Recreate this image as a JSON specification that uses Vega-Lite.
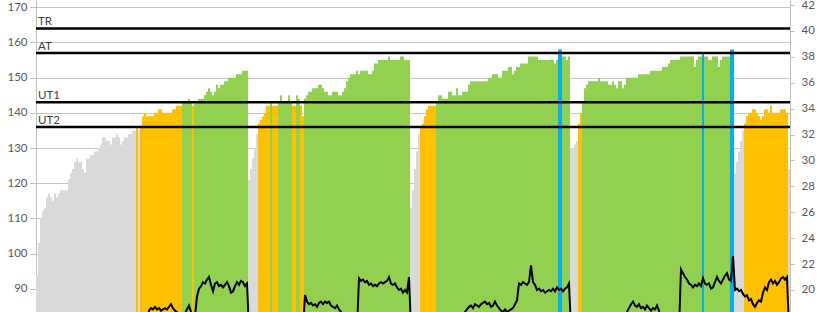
{
"$schema":"https://vega.github.io/schema/vega-lite/v6.json",
"width":754,"height":312,
"autosize":{"type":"none"},
"padding":{"left":36,"right":30,"top":0,"bottom":0},
"config":{"view":{"stroke":null},"font":"Lato"},
"datasets":{
"z":[{"n":"TR","v":164},{"n":"AT","v":157},{"n":"UT1","v":143},{"n":"UT2","v":136}],
"s":[
{"i":0,"h":94,"v":17},{"i":1,"h":103,"v":17},{"i":2,"h":110,"v":17},{"i":3,"h":112,"v":17},{"i":4,"h":113,"v":17},{"i":5,"h":116,"v":17},{"i":6,"h":117,"v":17},{"i":7,"h":116,"v":17},{"i":8,"h":115,"v":17},{"i":9,"h":117,"v":17},
{"i":10,"h":116,"v":17},{"i":11,"h":117,"v":17},{"i":12,"h":118,"v":17},{"i":13,"h":118,"v":17},{"i":14,"h":118,"v":17},{"i":15,"h":118,"v":17},{"i":16,"h":121,"v":17},{"i":17,"h":123,"v":17},{"i":18,"h":124,"v":17},{"i":19,"h":126,"v":17},
{"i":20,"h":127,"v":17},{"i":21,"h":126,"v":17},{"i":22,"h":126,"v":17},{"i":23,"h":124,"v":17},{"i":24,"h":123,"v":17},{"i":25,"h":127,"v":17},{"i":26,"h":127,"v":17},{"i":27,"h":128,"v":17},{"i":28,"h":128,"v":17},{"i":29,"h":129,"v":17},
{"i":30,"h":129,"v":17},{"i":31,"h":130,"v":17},{"i":32,"h":131,"v":17},{"i":33,"h":133,"v":17},{"i":34,"h":133,"v":17},{"i":35,"h":132,"v":17},{"i":36,"h":132,"v":17},{"i":37,"h":131,"v":17},{"i":38,"h":133,"v":17},{"i":39,"h":133,"v":17},
{"i":40,"h":134,"v":17},{"i":41,"h":133,"v":17},{"i":42,"h":131,"v":17},{"i":43,"h":132,"v":17},{"i":44,"h":133,"v":17},{"i":45,"h":133,"v":17},{"i":46,"h":134,"v":17},{"i":47,"h":134,"v":17},{"i":48,"h":135,"v":17},{"i":49,"h":135,"v":17},
{"i":50,"h":136,"v":17},{"i":51,"h":135,"v":17},{"i":52,"h":136,"v":17},{"i":53,"h":139,"v":17},{"i":54,"h":140,"v":17},{"i":55,"h":139,"v":17},{"i":56,"h":139,"v":18.4},{"i":57,"h":139,"v":18.6},{"i":58,"h":139,"v":18.5},{"i":59,"h":140,"v":18.7},
{"i":60,"h":140,"v":18.5},{"i":61,"h":141,"v":18.6},{"i":62,"h":141,"v":18.4},{"i":63,"h":140,"v":18.5},{"i":64,"h":140,"v":18.6},{"i":65,"h":140,"v":18.5},{"i":66,"h":140,"v":18.7},{"i":67,"h":140,"v":18.9},{"i":68,"h":141,"v":18.6},{"i":69,"h":141,"v":18.4},
{"i":70,"h":142,"v":18.3},{"i":71,"h":142,"v":17.8},{"i":72,"h":142,"v":17.8},{"i":73,"h":143,"v":17.8},{"i":74,"h":143,"v":18.2},{"i":75,"h":143,"v":18.5},{"i":76,"h":144,"v":18.8},{"i":77,"h":143,"v":18.3},{"i":78,"h":142,"v":17.8},{"i":79,"h":143,"v":18.0},
{"i":80,"h":143,"v":19.5},{"i":81,"h":144,"v":20.1},{"i":82,"h":144,"v":20.3},{"i":83,"h":144,"v":20.6},{"i":84,"h":145,"v":20.5},{"i":85,"h":146,"v":20.8},{"i":86,"h":147,"v":21.0},{"i":87,"h":146,"v":20.4},{"i":88,"h":145,"v":19.9},{"i":89,"h":146,"v":20.5},
{"i":90,"h":148,"v":20.6},{"i":91,"h":147,"v":20.3},{"i":92,"h":148,"v":20.4},{"i":93,"h":148,"v":20.2},{"i":94,"h":149,"v":20.4},{"i":95,"h":149,"v":20.6},{"i":96,"h":150,"v":20.3},{"i":97,"h":150,"v":19.8},{"i":98,"h":150,"v":19.9},{"i":99,"h":150,"v":20.3},
{"i":100,"h":151,"v":20.6},{"i":101,"h":151,"v":20.4},{"i":102,"h":151,"v":20.7},{"i":103,"h":152,"v":20.6},{"i":104,"h":152,"v":20.3},{"i":105,"h":152,"v":20.5},{"i":106,"h":121,"v":17},{"i":107,"h":124,"v":17},{"i":108,"h":127,"v":17},{"i":109,"h":130,"v":17},
{"i":110,"h":134,"v":17},{"i":111,"h":137,"v":17},{"i":112,"h":138,"v":17},{"i":113,"h":139,"v":17},{"i":114,"h":140,"v":17},{"i":115,"h":142,"v":17},{"i":116,"h":142,"v":17},{"i":117,"h":143,"v":17},{"i":118,"h":142,"v":17},{"i":119,"h":142,"v":17},
{"i":120,"h":142,"v":17},{"i":121,"h":143,"v":17},{"i":122,"h":145,"v":17},{"i":123,"h":143,"v":17},{"i":124,"h":143,"v":17},{"i":125,"h":143,"v":17},{"i":126,"h":145,"v":17},{"i":127,"h":143,"v":17},{"i":128,"h":142,"v":17},{"i":129,"h":142,"v":17},
{"i":130,"h":145,"v":17},{"i":131,"h":144,"v":17},{"i":132,"h":142,"v":17},{"i":133,"h":139,"v":17},{"i":134,"h":144,"v":19.6},{"i":135,"h":145,"v":19.1},{"i":136,"h":146,"v":18.9},{"i":137,"h":146,"v":19.0},{"i":138,"h":147,"v":18.8},{"i":139,"h":147,"v":18.9},
{"i":140,"h":147,"v":18.7},{"i":141,"h":148,"v":19.0},{"i":142,"h":148,"v":19.1},{"i":143,"h":147,"v":18.9},{"i":144,"h":146,"v":19.1},{"i":145,"h":146,"v":19.0},{"i":146,"h":145,"v":19.1},{"i":147,"h":145,"v":18.8},{"i":148,"h":146,"v":18.7},{"i":149,"h":146,"v":18.6},
{"i":150,"h":146,"v":18.8},{"i":151,"h":145,"v":18.5},{"i":152,"h":145,"v":18.3},{"i":153,"h":146,"v":17},{"i":154,"h":147,"v":17},{"i":155,"h":149,"v":17},{"i":156,"h":150,"v":17},{"i":157,"h":151,"v":17},{"i":158,"h":151,"v":17},{"i":159,"h":151,"v":17},
{"i":160,"h":152,"v":17},{"i":161,"h":151,"v":20.9},{"i":162,"h":152,"v":20.7},{"i":163,"h":152,"v":20.8},{"i":164,"h":152,"v":20.6},{"i":165,"h":152,"v":20.7},{"i":166,"h":151,"v":20.4},{"i":167,"h":151,"v":20.5},{"i":168,"h":152,"v":20.3},{"i":169,"h":154,"v":20.4},
{"i":170,"h":154,"v":20.3},{"i":171,"h":155,"v":20.5},{"i":172,"h":155,"v":20.6},{"i":173,"h":155,"v":20.5},{"i":174,"h":155,"v":20.6},{"i":175,"h":155,"v":20.7},{"i":176,"h":156,"v":21.0},{"i":177,"h":155,"v":20.5},{"i":178,"h":155,"v":20.4},{"i":179,"h":155,"v":20.5},
{"i":180,"h":155,"v":20.2},{"i":181,"h":155,"v":20.0},{"i":182,"h":156,"v":20.1},{"i":183,"h":156,"v":19.8},{"i":184,"h":155,"v":20.0},{"i":185,"h":155,"v":19.8},{"i":186,"h":155,"v":21.0},{"i":187,"h":113,"v":17},{"i":188,"h":118,"v":17},{"i":189,"h":124,"v":17},
{"i":190,"h":129,"v":17},{"i":191,"h":134,"v":17},{"i":192,"h":136,"v":17},{"i":193,"h":137,"v":17},{"i":194,"h":139,"v":17},{"i":195,"h":141,"v":17},{"i":196,"h":142,"v":17},{"i":197,"h":142,"v":17},{"i":198,"h":142,"v":17},{"i":199,"h":142,"v":17},
{"i":200,"h":143,"v":17},{"i":201,"h":145,"v":17},{"i":202,"h":145,"v":17},{"i":203,"h":144,"v":17},{"i":204,"h":144,"v":17},{"i":205,"h":144,"v":17},{"i":206,"h":146,"v":17},{"i":207,"h":146,"v":17},{"i":208,"h":145,"v":17},{"i":209,"h":145,"v":17},
{"i":210,"h":147,"v":17},{"i":211,"h":145,"v":17},{"i":212,"h":145,"v":17},{"i":213,"h":146,"v":17},{"i":214,"h":146,"v":18.3},{"i":215,"h":146,"v":18.5},{"i":216,"h":148,"v":18.7},{"i":217,"h":149,"v":18.8},{"i":218,"h":149,"v":18.6},{"i":219,"h":149,"v":18.9},
{"i":220,"h":149,"v":18.8},{"i":221,"h":149,"v":18.7},{"i":222,"h":149,"v":18.9},{"i":223,"h":149,"v":19.0},{"i":224,"h":149,"v":19.1},{"i":225,"h":149,"v":18.9},{"i":226,"h":150,"v":19.0},{"i":227,"h":150,"v":18.7},{"i":228,"h":151,"v":18.8},{"i":229,"h":151,"v":19.1},
{"i":230,"h":151,"v":18.8},{"i":231,"h":150,"v":18.6},{"i":232,"h":150,"v":18.4},{"i":233,"h":152,"v":18.3},{"i":234,"h":152,"v":18.5},{"i":235,"h":152,"v":18.3},{"i":236,"h":153,"v":18.4},{"i":237,"h":153,"v":18.5},{"i":238,"h":151,"v":18.6},{"i":239,"h":152,"v":18.9},
{"i":240,"h":153,"v":19.2},{"i":241,"h":153,"v":20.5},{"i":242,"h":154,"v":20.4},{"i":243,"h":154,"v":20.6},{"i":244,"h":154,"v":20.5},{"i":245,"h":154,"v":20.4},{"i":246,"h":156,"v":20.6},{"i":247,"h":156,"v":21.9},{"i":248,"h":156,"v":20.6},{"i":249,"h":156,"v":20.4},
{"i":250,"h":156,"v":20.0},{"i":251,"h":155,"v":20.1},{"i":252,"h":155,"v":19.9},{"i":253,"h":155,"v":20.0},{"i":254,"h":155,"v":19.8},{"i":255,"h":155,"v":19.9},{"i":256,"h":155,"v":20.0},{"i":257,"h":155,"v":19.9},{"i":258,"h":155,"v":20.1},{"i":259,"h":154,"v":19.9},
{"i":260,"h":155,"v":20.2},{"i":261,"h":158,"v":20.0},{"i":262,"h":158,"v":20.1},{"i":263,"h":156,"v":19.9},{"i":264,"h":156,"v":20.1},{"i":265,"h":155,"v":20.2},{"i":266,"h":156,"v":20.5},{"i":267,"h":130,"v":17},{"i":268,"h":130,"v":17},{"i":269,"h":131,"v":17},
{"i":270,"h":132,"v":17},{"i":271,"h":137,"v":17},{"i":272,"h":140,"v":17},{"i":273,"h":143,"v":17},{"i":274,"h":147,"v":17},{"i":275,"h":148,"v":17},{"i":276,"h":149,"v":17},{"i":277,"h":149,"v":17},{"i":278,"h":149,"v":17},{"i":279,"h":149,"v":17},
{"i":280,"h":149,"v":17},{"i":281,"h":150,"v":17},{"i":282,"h":149,"v":17},{"i":283,"h":149,"v":17},{"i":284,"h":149,"v":17},{"i":285,"h":149,"v":17},{"i":286,"h":148,"v":17},{"i":287,"h":148,"v":17},{"i":288,"h":149,"v":17},{"i":289,"h":148,"v":17},
{"i":290,"h":147,"v":17},{"i":291,"h":149,"v":17},{"i":292,"h":149,"v":17},{"i":293,"h":147,"v":17},{"i":294,"h":148,"v":17},{"i":295,"h":150,"v":18.3},{"i":296,"h":150,"v":18.6},{"i":297,"h":150,"v":18.9},{"i":298,"h":150,"v":19.1},{"i":299,"h":150,"v":18.8},
{"i":300,"h":150,"v":18.7},{"i":301,"h":151,"v":18.9},{"i":302,"h":151,"v":18.6},{"i":303,"h":151,"v":18.7},{"i":304,"h":151,"v":18.5},{"i":305,"h":151,"v":18.8},{"i":306,"h":151,"v":18.6},{"i":307,"h":152,"v":18.4},{"i":308,"h":152,"v":18.6},{"i":309,"h":152,"v":18.5},
{"i":310,"h":152,"v":18.8},{"i":311,"h":152,"v":18.4},{"i":312,"h":152,"v":17},{"i":313,"h":153,"v":17},{"i":314,"h":153,"v":17},{"i":315,"h":153,"v":17},{"i":316,"h":154,"v":17},{"i":317,"h":155,"v":17},{"i":318,"h":155,"v":17},{"i":319,"h":155,"v":17},
{"i":320,"h":155,"v":17},{"i":321,"h":155,"v":17},{"i":322,"h":156,"v":21.6},{"i":323,"h":156,"v":21.3},{"i":324,"h":156,"v":21.0},{"i":325,"h":156,"v":20.8},{"i":326,"h":156,"v":20.5},{"i":327,"h":156,"v":20.4},{"i":328,"h":156,"v":20.2},{"i":329,"h":153,"v":20.4},
{"i":330,"h":155,"v":20.3},{"i":331,"h":156,"v":20.5},{"i":332,"h":156,"v":20.3},{"i":333,"h":157,"v":20.9},{"i":334,"h":156,"v":20.5},{"i":335,"h":156,"v":20.4},{"i":336,"h":155,"v":20.5},{"i":337,"h":155,"v":20.1},{"i":338,"h":156,"v":20.2},{"i":339,"h":156,"v":20.6},
{"i":340,"h":156,"v":21.0},{"i":341,"h":153,"v":20.7},{"i":342,"h":155,"v":20.5},{"i":343,"h":156,"v":20.8},{"i":344,"h":156,"v":21.1},{"i":345,"h":156,"v":21.3},{"i":346,"h":156,"v":20.8},{"i":347,"h":158,"v":20.7},{"i":348,"h":158,"v":22.6},{"i":349,"h":123,"v":20.0},
{"i":350,"h":126,"v":20.1},{"i":351,"h":129,"v":19.9},{"i":352,"h":132,"v":20.0},{"i":353,"h":135,"v":19.7},{"i":354,"h":137,"v":19.5},{"i":355,"h":139,"v":19.6},{"i":356,"h":140,"v":19.2},{"i":357,"h":140,"v":19.3},{"i":358,"h":141,"v":18.9},{"i":359,"h":141,"v":18.7},
{"i":360,"h":140,"v":19.0},{"i":361,"h":139,"v":19.2},{"i":362,"h":138,"v":19.1},{"i":363,"h":139,"v":19.8},{"i":364,"h":141,"v":20.2},{"i":365,"h":141,"v":20.0},{"i":366,"h":140,"v":20.6},{"i":367,"h":142,"v":20.8},{"i":368,"h":140,"v":20.5},{"i":369,"h":140,"v":20.7},
{"i":370,"h":140,"v":20.4},{"i":371,"h":140,"v":20.6},{"i":372,"h":141,"v":20.9},{"i":373,"h":141,"v":21.0},{"i":374,"h":141,"v":20.8},{"i":375,"h":140,"v":21.0},{"i":376,"h":124,"v":17}
]},
"layer":[
{"layer":[
{"data":{"name":"s"},"mark":{"type":"bar","strokeWidth":0},
"encoding":{
"x":{"field":"i","type":"ordinal","scale":{"paddingInner":0,"paddingOuter":0},"axis":null},
"y":{"field":"h","type":"quantitative","scale":{"domain":[83.38,172.08],"nice":false,"zero":false},
"axis":{"orient":"left","title":null,"values":[90,100,110,120,130,140,150,160,170],"tickCount":40,"format":"d","labelOverlap":false,"grid":true,"gridColor":"#C6C6C6","gridWidth":1,"domainColor":"#BFBFBF","tickColor":"#BFBFBF","tickSize":6,"labelPadding":3,"labelColor":"#595959","labelFont":"Lato","labelFontSize":11.5}},
"color":{"field":"h","type":"quantitative","scale":{"type":"threshold","domain":[136,143,157],"range":["#D9D9D9","#FFC000","#92D050","#00B0F0"]},"legend":null}
}},
{"data":{"name":"z"},"mark":{"type":"rule","color":"#000000","strokeWidth":2.5},
"encoding":{"y":{"field":"v","type":"quantitative"}}},
{"data":{"name":"z"},"mark":{"type":"text","align":"left","baseline":"alphabetic","dx":2,"dy":-3,"font":"Lato","fontSize":11.5,"color":"#404040"},
"encoding":{"x":{"datum":0},"y":{"field":"v","type":"quantitative"},"text":{"field":"n"}}}
]},
{"data":{"name":"s"},"mark":{"type":"line","color":"#000000","strokeWidth":2,"clip":true},
"encoding":{
"x":{"field":"i","type":"ordinal","axis":null},
"y":{"field":"v","type":"quantitative","scale":{"domain":[18.3,42.39],"nice":false,"zero":false},
"axis":{"orient":"right","title":null,"values":[20,22,24,26,28,30,32,34,36,38,40,42],"tickCount":40,"format":"d","labelOverlap":false,"grid":false,"domainColor":"#BFBFBF","tickColor":"#BFBFBF","tickSize":4,"labelPadding":7,"labelColor":"#595959","labelFont":"Lato","labelFontSize":11.5}}
}}
],
"resolve":{"scale":{"y":"independent"}}
}
